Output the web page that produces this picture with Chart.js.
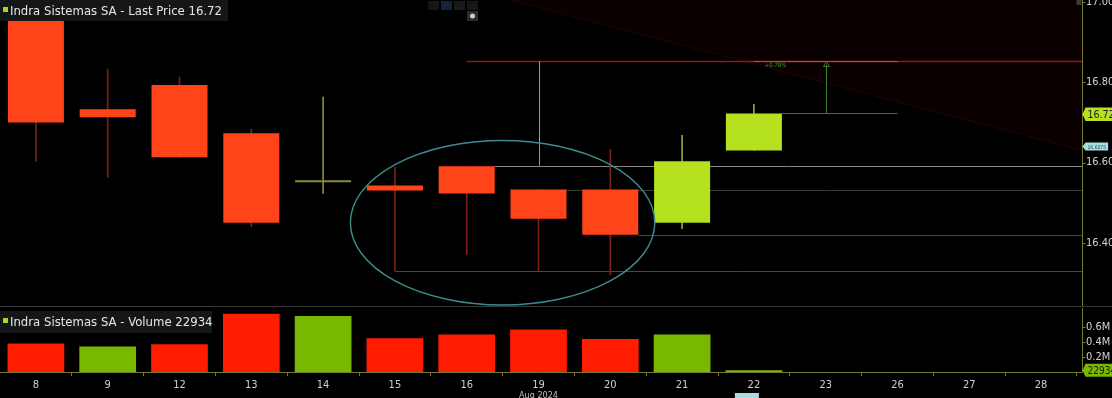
<!DOCTYPE html>
<html>
<head>
<meta charset="utf-8">
<script src="https://cdn.jsdelivr.net/npm/chart.js@4.4.1/dist/chart.umd.min.js"></script>
<style>
  body { margin: 0; background: #000; width: 1112px; height: 398px; overflow: hidden; position: relative; }
  #price { position: absolute; left: 0; top: 0; }
  #vol { position: absolute; left: 0; top: 306px; }
</style>
</head>
<body>
<canvas id="price" width="1112" height="306"></canvas>
<canvas id="vol" width="1112" height="92"></canvas>
<script>
// Data
const days = ['8', '9', '12', '13', '14', '15', '16', '19', '20', '21', '22', '23', '26', '27', '28'];
const openP  = [16.99, 16.733, 16.793, 16.673, 16.551, 16.543, 16.591, 16.533, 16.533, 16.450, 16.630, null, null, null, null];
const closeP = [16.70, 16.713, 16.613, 16.450, 16.551, 16.530, 16.523, 16.460, 16.420, 16.603, 16.722, null, null, null, null];
const highP  = [16.99, 16.833, 16.813, 16.683, 16.763, 16.588, 16.591, 16.533, 16.633, 16.668, 16.745, null, null, null, null];
const lowP   = [16.603, 16.563, 16.613, 16.440, 16.523, 16.330, 16.370, 16.330, 16.320, 16.435, 16.630, null, null, null, null];
const volume = [380000, 340000, 370000, 780000, 750000, 450000, 500000, 570000, 440000, 500000, 22934, null, null, null, null];
const volUp  = [false, true, false, false, true, false, false, false, false, true, true, null, null, null, null];
const priceTicks = [16.40, 16.60, 16.80, 17.00];
const volTicks = [200000, 400000, 600000];
const lastPrice = 16.72;
const lastVolume = 22934;

// drawn levels on the price panel
const levelRed = 16.8525;
const levelGrey = 16.5925;
const levelDark = 16.5325;
const levelBlue = 16.42;
const levelPurple = 16.33;
const levelGreen = 16.7225;

const RED = '#ff4419';
const GREEN = '#b5e11e';
const DOJI = '#8b8b3a';
const OLIVE = '#77772e';
const AXIS_X = 1082.5;
const FONT = "'Liberation Sans Narrow', 'DejaVu Sans Condensed', sans-serif";

function bodyColor(i) {
  if (openP[i] == null) return 'transparent';
  if (openP[i] === closeP[i]) return DOJI;
  return closeP[i] > openP[i] ? GREEN : RED;
}
function wickColor(i) {
  if (openP[i] == null) return 'transparent';
  if (openP[i] === closeP[i]) return DOJI;
  return closeP[i] > openP[i] ? '#8fa33c' : '#7a2216';
}

function legendBox(ctx, x, y, w, h, text) {
  ctx.fillStyle = '#161616';
  ctx.fillRect(x, y, w, h);
  ctx.fillStyle = '#9be01a';
  ctx.fillRect(x + 3, y + 7, 5, 5);
  ctx.fillStyle = '#e6e6e6';
  ctx.font = '13px ' + FONT;
  ctx.textBaseline = 'middle';
  ctx.textAlign = 'left';
  ctx.fillText(text, x + 10, y + h / 2 + 1);
}

function badge(ctx, x, y, text, bg, fg, size) {
  ctx.font = size + 'px ' + FONT;
  const w = ctx.measureText(text).width + 4;
  const h = size + 3;
  ctx.fillStyle = bg;
  ctx.beginPath();
  ctx.moveTo(x, y);
  ctx.lineTo(x + 3, y - h / 2);
  ctx.lineTo(x + 3 + w, y - h / 2);
  ctx.lineTo(x + 3 + w, y + h / 2);
  ctx.lineTo(x + 3, y + h / 2);
  ctx.closePath();
  ctx.fill();
  ctx.fillStyle = fg;
  ctx.textAlign = 'left';
  ctx.textBaseline = 'middle';
  ctx.fillText(text, x + 5, y + 1);
}

// right axis line and tick marks
function rightAxis(ctx, a, y, ticks) {
  ctx.strokeStyle = OLIVE;
  ctx.lineWidth = 1;
  ctx.beginPath();
  ctx.moveTo(AXIS_X, a.top);
  ctx.lineTo(AXIS_X, a.bottom);
  ticks.forEach(v => {
    const py = Math.round(y.getPixelForValue(v)) + 0.5;
    ctx.moveTo(AXIS_X, py);
    ctx.lineTo(AXIS_X + 3, py);
  });
  ctx.stroke();
}

const priceDecor = {
  id: 'priceDecor',
  beforeDatasetsDraw(chart) {
    const { ctx, chartArea: a, scales: { x, y } } = chart;
    const cw = x.getPixelForValue(1) - x.getPixelForValue(0);
    const half = cw * 0.39;
    ctx.save();
    // shaded zone at top right
    ctx.fillStyle = '#0b0000';
    ctx.beginPath();
    ctx.moveTo(x.getPixelForValue(6.6), a.top);
    ctx.lineTo(AXIS_X, a.top);
    ctx.lineTo(AXIS_X, y.getPixelForValue(16.63));
    ctx.closePath();
    ctx.fill();
    ctx.strokeStyle = '#220505';
    ctx.lineWidth = 1;
    ctx.beginPath();
    ctx.moveTo(x.getPixelForValue(6.6), a.top);
    ctx.lineTo(AXIS_X, y.getPixelForValue(16.63));
    ctx.stroke();

    const hline = (val, fromX, color, lw) => {
      const py = Math.round(y.getPixelForValue(val)) + 0.5;
      ctx.strokeStyle = color;
      ctx.lineWidth = lw || 1;
      ctx.beginPath();
      ctx.moveTo(fromX, py);
      ctx.lineTo(AXIS_X, py);
      ctx.stroke();
    };
    hline(levelRed, x.getPixelForValue(6), '#8c1a1a', 1.5);
    hline(levelGrey, x.getPixelForValue(6) + half, '#8a8a8a');
    hline(levelDark, x.getPixelForValue(7) + half, '#3c3c3c');
    hline(levelBlue, x.getPixelForValue(8) + half, '#34466e');
    hline(levelPurple, x.getPixelForValue(5), '#5e3a56');
    ctx.lineWidth = 1;

    // measuring line
    const gx = Math.round(x.getPixelForValue(7)) + 0.5;
    ctx.strokeStyle = '#9a9a9a';
    ctx.beginPath();
    ctx.moveTo(gx, y.getPixelForValue(levelRed));
    ctx.lineTo(gx, y.getPixelForValue(levelGrey));
    ctx.stroke();

    // green projection
    const ry = Math.round(y.getPixelForValue(levelRed)) + 0.5;
    const gy = Math.round(y.getPixelForValue(levelGreen)) + 0.5;
    ctx.strokeStyle = '#6f7a2c';
    ctx.beginPath();
    ctx.moveTo(x.getPixelForValue(10), ry);
    ctx.lineTo(x.getPixelForValue(12), ry);
    ctx.stroke();
    ctx.strokeStyle = '#3f7a2c';
    ctx.beginPath();
    ctx.moveTo(x.getPixelForValue(10) + half, gy);
    ctx.lineTo(x.getPixelForValue(12), gy);
    const vx = Math.round(x.getPixelForValue(11)) + 0.5;
    ctx.moveTo(vx, gy);
    ctx.lineTo(vx, ry + 3);
    ctx.stroke();
    ctx.beginPath();
    ctx.moveTo(vx, ry);
    ctx.lineTo(vx - 3, ry + 5);
    ctx.lineTo(vx + 3, ry + 5);
    ctx.closePath();
    ctx.stroke();
    ctx.fillStyle = '#3fa02c';
    ctx.font = '6px ' + FONT;
    ctx.textAlign = 'left';
    ctx.textBaseline = 'top';
    ctx.fillText('+0.78%', x.getPixelForValue(10.15), ry + 1);
    ctx.restore();
  },
  afterDatasetsDraw(chart) {
    const { ctx, chartArea: a, scales: { x, y } } = chart;
    const cw = x.getPixelForValue(1) - x.getPixelForValue(0);
    ctx.save();
    // ellipse around the consolidation
    ctx.strokeStyle = '#3f8a8f';
    ctx.lineWidth = 1.4;
    ctx.beginPath();
    ctx.ellipse((x.getPixelForValue(6) + x.getPixelForValue(7)) / 2, y.getPixelForValue(16.45),
      cw * 2.12, y.getPixelForValue(16.45) - y.getPixelForValue(16.655), 0, 0, Math.PI * 2);
    ctx.stroke();

    legendBox(ctx, 0, 0, 228, 21, 'Indra Sistemas SA - Last Price ' + lastPrice.toFixed(2));

    // toolbar
    const tb = [['#161616', 428], ['#14233a', 441], ['#1a1a1a', 454], ['#161616', 467]];
    tb.forEach(([c, tx]) => { ctx.fillStyle = c; ctx.fillRect(tx, 1, 11, 9); });
    ctx.fillStyle = '#2c2c2c';
    ctx.fillRect(467, 11, 11, 10);
    ctx.fillStyle = '#cfcfcf';
    ctx.beginPath();
    ctx.arc(472.5, 16, 2.5, 0, Math.PI * 2);
    ctx.fill();
    ctx.fillStyle = '#3a3a3a';
    ctx.fillRect(AXIS_X - 6, 0, 5, 5);

    rightAxis(ctx, a, y, priceTicks);
    // right badges
    badge(ctx, AXIS_X, y.getPixelForValue(lastPrice), lastPrice.toFixed(2), '#b8e21f', '#1a1a1a', 10.5);
    badge(ctx, AXIS_X, y.getPixelForValue(16.64), '16.6275', '#a9dbe3', '#2a4a50', 5);
    ctx.restore();
  }
};

const volDecor = {
  id: 'volDecor',
  afterDraw(chart) {
    const { ctx, chartArea: a, scales: { x, y } } = chart;
    ctx.save();
    ctx.strokeStyle = '#3a3a3a';
    ctx.beginPath();
    ctx.moveTo(0, 0.5);
    ctx.lineTo(chart.width, 0.5);
    ctx.stroke();
    // bottom axis line
    ctx.strokeStyle = OLIVE;
    ctx.beginPath();
    ctx.moveTo(0, Math.round(a.bottom) + 0.5);
    ctx.lineTo(AXIS_X, Math.round(a.bottom) + 0.5);
    ctx.stroke();
    rightAxis(ctx, a, y, volTicks);
    legendBox(ctx, 0, 5, 212, 22, 'Indra Sistemas SA - Volume ' + lastVolume);
    badge(ctx, AXIS_X, y.getPixelForValue(lastVolume), String(lastVolume), '#7ab800', '#1a1a1a', 10);
    ctx.fillStyle = '#bdbdbd';
    ctx.font = '9px ' + FONT;
    ctx.textAlign = 'center';
    ctx.textBaseline = 'top';
    ctx.fillText('Aug 2024', x.getPixelForValue(7), a.bottom + 19);
    ctx.fillStyle = '#a9dbe3';
    ctx.fillRect(x.getPixelForValue(10) - 19, a.bottom + 21, 24, 8);
    ctx.restore();
  }
};

const bodies = days.map((d, i) => openP[i] == null ? null : [openP[i], closeP[i]]);
const wicks = days.map((d, i) => highP[i] == null ? null : [lowP[i], highP[i]]);

const noPad = (scale) => { scale.width = 35; scale.paddingTop = 0; scale.paddingBottom = 0; };

new Chart(document.getElementById('price'), {
  type: 'bar',
  data: {
    labels: days,
    datasets: [
      {
        data: bodies,
        backgroundColor: days.map((d, i) => bodyColor(i)),
        barPercentage: 0.78,
        categoryPercentage: 1,
        grouped: false,
        minBarLength: 2,
        order: 0
      },
      {
        data: wicks,
        backgroundColor: days.map((d, i) => wickColor(i)),
        barThickness: 1,
        grouped: false,
        order: 1
      }
    ]
  },
  options: {
    responsive: false,
    animation: false,
    events: [],
    layout: { padding: 0 },
    plugins: { legend: { display: false }, tooltip: { enabled: false } },
    scales: {
      x: { display: false, offset: true },
      y: {
        position: 'right',
        min: 16.2425,
        max: 17.005,
        afterBuildTicks: (scale) => { scale.ticks = priceTicks.map(v => ({ value: v })); },
        afterFit: noPad,
        grid: { drawOnChartArea: false, drawTicks: false },
        border: { display: false },
        ticks: { color: '#d2d2d2', font: { family: FONT, size: 11 }, padding: 9, callback: v => v.toFixed(2) }
      }
    }
  },
  plugins: [priceDecor]
});

new Chart(document.getElementById('vol'), {
  type: 'bar',
  data: {
    labels: days,
    datasets: [{
      data: volume,
      backgroundColor: volUp.map(u => u ? '#78b900' : '#ff1c00'),
      barPercentage: 0.79,
      categoryPercentage: 1
    }]
  },
  options: {
    responsive: false,
    animation: false,
    events: [],
    layout: { padding: { top: 2 } },
    plugins: { legend: { display: false }, tooltip: { enabled: false } },
    scales: {
      x: {
        offset: true,
        afterFit: (scale) => { scale.height = 26; },
        grid: { drawOnChartArea: false, drawTicks: true, tickLength: 4, color: OLIVE },
        border: { display: false },
        ticks: { color: '#cfcfcf', font: { family: FONT, size: 11 }, padding: 3, maxRotation: 0, autoSkip: false }
      },
      y: {
        position: 'right',
        min: 0,
        max: 856000,
        afterBuildTicks: (scale) => { scale.ticks = volTicks.map(v => ({ value: v })); },
        afterFit: noPad,
        grid: { drawOnChartArea: false, drawTicks: false },
        border: { display: false },
        ticks: { color: '#d2d2d2', font: { family: FONT, size: 11 }, padding: 9, callback: v => (v / 1e6).toFixed(1) + 'M' }
      }
    }
  },
  plugins: [volDecor]
});
</script>
</body>
</html>
